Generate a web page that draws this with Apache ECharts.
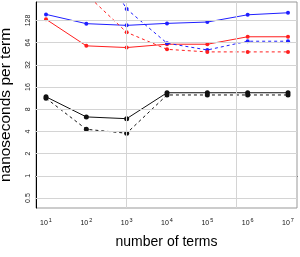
<!DOCTYPE html>
<html><head><meta charset="utf-8">
<script src="https://cdn.jsdelivr.net/npm/echarts@6/dist/echarts.min.js"></script>
<style>html,body{margin:0;padding:0;background:#fff}#c{width:300px;height:257px}</style>
</head><body><div id="c"></div>
<script>
// number of terms (powers of ten)
const terms = [1e1, 1e2, 1e3, 1e4, 1e5, 1e6, 1e7];
// nanoseconds per term
const blueSolid  = [155, 116, 110, 117, 122, 153, 163];
const redSolid   = [133, 58, 55, 61, 61, 77, 77];
const blueDashed = [null, 1500, 183, 63, 51, 67, 67];
const redDashed  = [null, 290, 88.5, 52, 48, 48, 48];
const blackSolid = [11.8, 6.3, 5.96, 13.4, 13.4, 13.4, 13.4];
const blackDashed= [11.3, 4.28, 3.78, 12.5, 12.5, 12.5, 12.5];
// tick labels
const yTicks = [0.5, 1, 2, 4, 8, 16, 32, 64, 128];
const xTickExp = [1, 2, 3, 4, 5, 6, 7];
const vGrid = [1000, 524288];

const lx = v => Math.log10(v);
const ly = v => Math.log2(v);
const pts = arr => terms.map((t, i) => arr[i] == null ? null : [lx(t), ly(arr[i])]).filter(p => p);

function mk(name, arr, color, dashed, size) {
  return {
    name, type: 'line', data: pts(arr), color,
    symbol: 'circle', symbolSize: size || 4,
    lineStyle: { color, width: 1, type: dashed ? [3, 3] : 'solid' },
    itemStyle: { color }, clip: true, animation: false, z: 3
  };
}

const chart = echarts.init(document.getElementById('c'), null, { renderer: 'canvas' });
chart.setOption({
  animation: false,
  grid: { left: 36, top: 2, right: 3, bottom: 49, show: true, borderColor: '#999', borderWidth: 1,
          containLabel: false, outerBoundsMode: 'none' },
  xAxis: {
    type: 'value', min: 0.752, max: 7.223,
    name: 'number of terms', nameLocation: 'middle', nameGap: 27,
    nameTextStyle: { fontSize: 14, color: '#000', fontFamily: 'Liberation Sans' },
    axisLine: { show: true, lineStyle: { color: '#000', width: 1 } },
    axisTick: { show: false, customValues: xTickExp },
    splitLine: { show: false },
    axisLabel: {
      customValues: xTickExp, margin: 9,
      formatter: v => '{b|10}{s|' + v + '}',
      rich: {
        b: { fontSize: 7, color: '#111', fontFamily: 'Liberation Sans' },
        s: { fontSize: 5.5, color: '#111', fontFamily: 'Liberation Sans', padding: [0, 0, 7, 1] }
      }
    }
  },
  yAxis: {
    type: 'value', min: -1.45, max: 7.834,
    name: 'nanoseconds per term', nameLocation: 'middle', nameGap: 22,
    nameTextStyle: { fontSize: 15.5, color: '#000', fontFamily: 'Liberation Sans' },
    axisLine: { show: true, lineStyle: { color: '#000', width: 1 } },
    axisTick: { show: false, customValues: yTicks.map(ly) },
    splitLine: { show: false },
    axisLabel: {
      customValues: yTicks.map(ly), rotate: 90, margin: 4,
      fontSize: 7, color: '#222', fontFamily: 'Liberation Sans',
      formatter: v => String(Math.round(Math.pow(2, v) * 10) / 10)
    }
  },
  series: [
    {
      type: 'line', data: [], silent: true, z: 1,
      markLine: {
        silent: true, symbol: 'none', label: { show: false }, animation: false,
        lineStyle: { color: '#d4d4d4', width: 1, type: 'solid' },
        data: yTicks.map(v => ({ yAxis: ly(v) })).concat(vGrid.map(v => ({ xAxis: lx(v) })))
      }
    },
    mk('blue', blueSolid, '#1f1fff', false),
    mk('red', redSolid, '#ff1f1f', false),
    mk('blueD', blueDashed, '#1f1fff', true),
    mk('redD', redDashed, '#ff1f1f', true),
    mk('black', blackSolid, '#111', false, 5),
    mk('blackD', blackDashed, '#111', true, 5)
  ]
});
</script></body></html>
